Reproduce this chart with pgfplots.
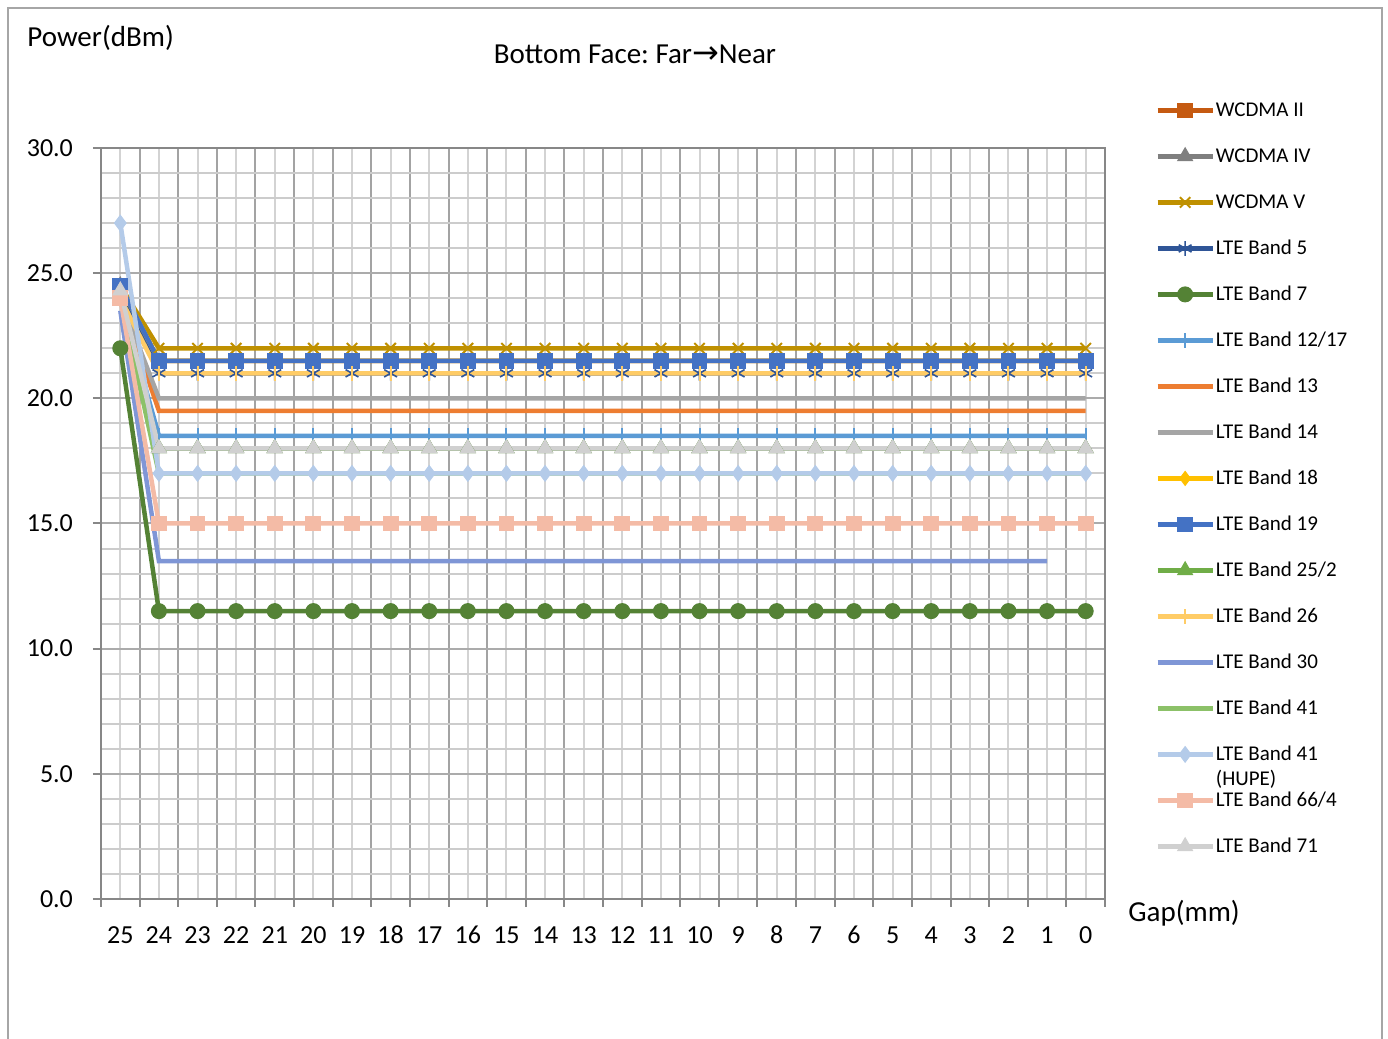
\documentclass[border=0pt]{standalone}
\usepackage{fontspec}
\setmainfont{Carlito}
\newfontfamily\dejavu{DejaVu Sans}
\usepackage{pgfplots}
\pgfplotsset{compat=1.18}
\usepackage{pgfplotstable}
\definecolor{cW2}{HTML}{C55A11}
\definecolor{cW4}{HTML}{7F7F7F}
\definecolor{cW5}{HTML}{BF9000}
\definecolor{cB5}{HTML}{2F5597}
\definecolor{cB7}{HTML}{548235}
\definecolor{cB12}{HTML}{5B9BD5}
\definecolor{cB13}{HTML}{ED7D31}
\definecolor{cB14}{HTML}{A5A5A5}
\definecolor{cB18}{HTML}{FFC000}
\definecolor{cB19}{HTML}{4472C4}
\definecolor{cB25}{HTML}{70AD47}
\definecolor{cB26}{HTML}{FFCC66}
\definecolor{cB30}{HTML}{7F96D6}
\definecolor{cB41}{HTML}{8CC168}
\definecolor{cB41h}{HTML}{B4CBE9}
\definecolor{cB66}{HTML}{F4BBA6}
\definecolor{cB71}{HTML}{D0D0D0}
\definecolor{gridDark}{HTML}{A3A3A3}
\definecolor{gridLight}{HTML}{D3D3D3}
\definecolor{gridH}{HTML}{CCCCCC}
\definecolor{gridHmaj}{HTML}{ABABAB}
\definecolor{axisc}{HTML}{878787}
\definecolor{framec}{HTML}{A6A6A6}

\pgfplotstableread{
x w2 w4 w5 b5 b7 b12 b13 b14 b18 b19 b25 b26 b30 b41 b41h b66 b71
0 24.5 24.5 24.5 24.5 22 24 24 24 24.5 24.5 24 24 23.5 24 27 24 24.3
1 21.5 18 22 21 11.5 18.5 19.5 20 21.5 21.5 18 21 13.5 17 17 15 18
2 21.5 18 22 21 11.5 18.5 19.5 20 21.5 21.5 18 21 13.5 17 17 15 18
3 21.5 18 22 21 11.5 18.5 19.5 20 21.5 21.5 18 21 13.5 17 17 15 18
4 21.5 18 22 21 11.5 18.5 19.5 20 21.5 21.5 18 21 13.5 17 17 15 18
5 21.5 18 22 21 11.5 18.5 19.5 20 21.5 21.5 18 21 13.5 17 17 15 18
6 21.5 18 22 21 11.5 18.5 19.5 20 21.5 21.5 18 21 13.5 17 17 15 18
7 21.5 18 22 21 11.5 18.5 19.5 20 21.5 21.5 18 21 13.5 17 17 15 18
8 21.5 18 22 21 11.5 18.5 19.5 20 21.5 21.5 18 21 13.5 17 17 15 18
9 21.5 18 22 21 11.5 18.5 19.5 20 21.5 21.5 18 21 13.5 17 17 15 18
10 21.5 18 22 21 11.5 18.5 19.5 20 21.5 21.5 18 21 13.5 17 17 15 18
11 21.5 18 22 21 11.5 18.5 19.5 20 21.5 21.5 18 21 13.5 17 17 15 18
12 21.5 18 22 21 11.5 18.5 19.5 20 21.5 21.5 18 21 13.5 17 17 15 18
13 21.5 18 22 21 11.5 18.5 19.5 20 21.5 21.5 18 21 13.5 17 17 15 18
14 21.5 18 22 21 11.5 18.5 19.5 20 21.5 21.5 18 21 13.5 17 17 15 18
15 21.5 18 22 21 11.5 18.5 19.5 20 21.5 21.5 18 21 13.5 17 17 15 18
16 21.5 18 22 21 11.5 18.5 19.5 20 21.5 21.5 18 21 13.5 17 17 15 18
17 21.5 18 22 21 11.5 18.5 19.5 20 21.5 21.5 18 21 13.5 17 17 15 18
18 21.5 18 22 21 11.5 18.5 19.5 20 21.5 21.5 18 21 13.5 17 17 15 18
19 21.5 18 22 21 11.5 18.5 19.5 20 21.5 21.5 18 21 13.5 17 17 15 18
20 21.5 18 22 21 11.5 18.5 19.5 20 21.5 21.5 18 21 13.5 17 17 15 18
21 21.5 18 22 21 11.5 18.5 19.5 20 21.5 21.5 18 21 13.5 17 17 15 18
22 21.5 18 22 21 11.5 18.5 19.5 20 21.5 21.5 18 21 13.5 17 17 15 18
23 21.5 18 22 21 11.5 18.5 19.5 20 21.5 21.5 18 21 13.5 17 17 15 18
24 21.5 18 22 21 11.5 18.5 19.5 20 21.5 21.5 18 21 13.5 17 17 15 18
25 21.5 18 22 21 11.5 18.5 19.5 20 21.5 21.5 18 21 nan 17 17 15 18
}\datatable

\begin{document}
\begin{tikzpicture}
\useasboundingbox (0,0) rectangle (694pt,519.5pt);
\draw[framec, line width=1pt] (4pt,-10pt) rectangle (691pt,515.5pt);
\begin{axis}[
  at={(50.5pt,70pt)}, anchor=south west,
  scale only axis, width=502pt, height=375.5pt,
  xmin=-0.5, xmax=25.5, ymin=0, ymax=30,
  xtick={0,...,25},
  xticklabels={25,24,23,22,21,20,19,18,17,16,15,14,13,12,11,10,9,8,7,6,5,4,3,2,1,0},
  minor xtick={-0.5,0.5,...,25.5},
  ytick={0,5,...,30},
  yticklabels={0.0,5.0,10.0,15.0,20.0,25.0,30.0},
  minor ytick={0,...,30},
  xmajorgrids, xminorgrids, ymajorgrids, yminorgrids,
  major x grid style={gridLight, line width=1pt},
  minor x grid style={gridDark, line width=1pt},
  major y grid style={gridHmaj, line width=1pt},
  minor y grid style={gridH, line width=1pt},
  tick align=outside, tick pos=left,
  major tick length=4pt, minor tick length=4pt,
  major x tick style={draw=none},
  minor y tick style={draw=none},
  tick style={axisc, line width=1pt},
  axis line style={axisc, line width=1pt},
  ticklabel style={font=\fontsize{13}{13}\selectfont, text=black},
  xticklabel style={text height=9pt, text depth=0pt, yshift=-5.5pt},
  yticklabel style={xshift=-6.5pt},
  legend cell align=left,
  legend style={at={(axis description cs:1.0498,1.0639)}, anchor=north west,
    draw=none, fill=none, inner sep=0pt, row sep=13pt, column sep=0.5pt,
    font=\fontsize{10.5}{10.5}\selectfont,
    nodes={inner sep=0pt, text height=8pt, text depth=2pt}},
  legend image code/.code={\draw[mark repeat=2,mark phase=2] plot coordinates {(0pt,0pt) (13.75pt,0pt) (27.5pt,0pt)};},
  every axis plot/.append style={line width=2.25pt},
  clip=false,
]
\addplot[cW2, mark=square*, mark size=3.7pt, mark options={solid,line width=0.5pt}] table[x=x,y=w2]{\datatable};
\addlegendentry{WCDMA II}
\addplot[cW4, mark=triangle*, mark size=4.3pt, mark options={solid,line width=0.5pt}] table[x=x,y=w4]{\datatable};
\addlegendentry{WCDMA IV}
\addplot[cW5, mark=x, mark size=3.7pt, mark options={solid,line width=1pt}] table[x=x,y=w5]{\datatable};
\addlegendentry{WCDMA V}
\addplot[cB5, mark=asterisk, mark size=3.7pt, mark options={solid,line width=0.8pt}] table[x=x,y=b5]{\datatable};
\addlegendentry{LTE Band 5}
\addplot[cB7, mark=*, mark size=3.75pt, mark options={solid,line width=0.5pt}] table[x=x,y=b7]{\datatable};
\addlegendentry{LTE Band 7}
\addplot[cB12, mark=|, mark size=3.7pt, mark options={solid,line width=1pt}] table[x=x,y=b12]{\datatable};
\addlegendentry{LTE Band 12/17}
\addplot[cB13] table[x=x,y=b13]{\datatable};
\addlegendentry{LTE Band 13}
\addplot[cB14] table[x=x,y=b14]{\datatable};
\addlegendentry{LTE Band 14}
\addplot[cB18, mark=diamond*, mark size=3.5pt, mark options={solid,line width=0.5pt}] table[x=x,y=b18]{\datatable};
\addlegendentry{LTE Band 18}
\addplot[cB19, mark=square*, mark size=3.7pt, mark options={solid,line width=0.5pt}] table[x=x,y=b19]{\datatable};
\addlegendentry{LTE Band 19}
\addplot[cB25, mark=triangle*, mark size=4.3pt, mark options={solid,line width=0.5pt}] table[x=x,y=b25]{\datatable};
\addlegendentry{LTE Band 25/2}
\addplot[cB26, mark=|, mark size=3.7pt, mark options={solid,line width=1pt}] table[x=x,y=b26]{\datatable};
\addlegendentry{LTE Band 26}
\addplot[cB30] table[x=x,y=b30]{\datatable};
\addlegendentry{LTE Band 30}
\addplot[cB41] table[x=x,y=b41]{\datatable};
\addlegendentry{LTE Band 41}
\addplot[cB41h, mark=diamond*, mark size=3.9pt, mark options={solid,line width=0.5pt}] table[x=x,y=b41h]{\datatable};
\addlegendentry{\makebox[0pt][l]{\raisebox{-12.5pt}[0pt][0pt]{(HUPE)}}LTE Band 41}
\addplot[cB66, mark=square*, mark size=3.7pt, mark options={solid,line width=0.5pt}] table[x=x,y=b66]{\datatable};
\addlegendentry{LTE Band 66/4}
\addplot[cB71, mark=triangle*, mark size=4.3pt, mark options={solid,line width=0.5pt}] table[x=x,y=b71]{\datatable};
\addlegendentry{LTE Band 71}
\end{axis}
\node[anchor=west, inner sep=0pt, font=\fontsize{14.5}{14.5}\selectfont] at (13.5pt,500.5pt) {Power(dBm)};
\node[inner sep=0pt, font=\fontsize{14.5}{14.5}\selectfont] at (317.5pt,492.5pt) {Bottom Face:~Far{\dejavu\fontsize{16}{16}\selectfont →}Near};
\node[anchor=west, inner sep=0pt, font=\fontsize{14.5}{14.5}\selectfont] at (564pt,63pt) {Gap(mm)};
\end{tikzpicture}
\end{document}
